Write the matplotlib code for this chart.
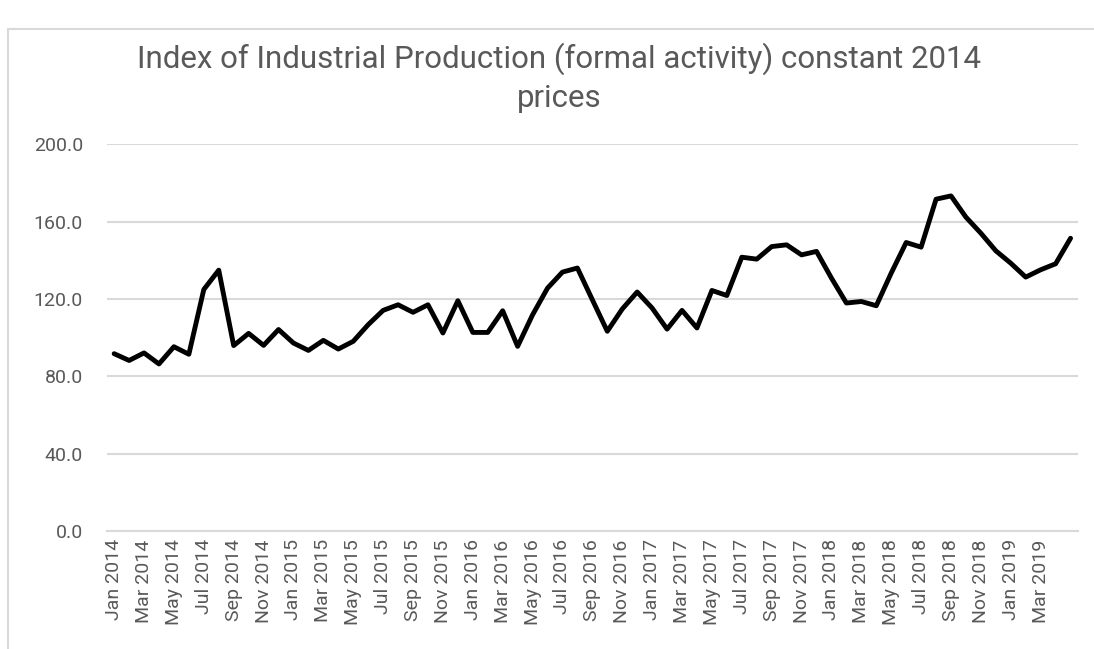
import numpy as np
import pandas as pd
import matplotlib
matplotlib.use('Agg')
import matplotlib.pyplot as plt
from matplotlib.patches import Rectangle

# Monthly categories, Jan 2014 - May 2019
meses = list(pd.date_range('2014-01-01', periods=65, freq='MS').strftime('%b %Y'))

# Index values
indice = [91.7, 88.2, 92.1, 86.4, 95.3, 91.4, 124.9, 134.9, 95.9, 102.2, 96.0, 104.2,
          97.2, 93.4, 98.6, 94.1, 98.1, 106.7, 114.1, 117.0, 113.1, 117.0, 102.4, 119.1,
          102.7, 102.7, 113.9, 95.5, 111.8, 125.6, 133.9, 136.0, 119.6, 103.3, 114.8, 123.6,
          115.3, 104.4, 114.1, 105.0, 124.4, 121.8, 141.6, 140.6, 147.1, 148.0, 142.8, 144.6,
          130.8, 117.9, 118.7, 116.5, 133.4, 149.2, 146.8, 171.6, 173.3, 162.3, 154.0, 144.9,
          138.5, 131.3, 135.1, 138.2, 151.4]

ticks_y = [0, 40, 80, 120, 160, 200]

gris_texto = '#595959'
gris_linea = '#d9d9d9'
fuente = ['Roboto', 'DejaVu Sans']

fig = plt.figure(figsize=(10.94, 6.49), dpi=100)
ax = fig.add_axes([0.0975, 0.1818, 0.8879, 0.5959])

x = np.arange(len(indice))
ax.plot(x, indice, color='black', linewidth=3.5, solid_joinstyle='round', solid_capstyle='round')

ax.set_xlim(-0.5, len(indice) - 0.5)
ax.set_ylim(0, 200)
ax.set_yticks(ticks_y)
ax.set_yticklabels(['%.1f' % v for v in ticks_y], fontsize=14, color=gris_texto, family=fuente)
# Excel solo rotula cada dos meses hasta Mar 2019
ax.set_xticks(x[:63:2])
ax.set_xticklabels(meses[:63:2], rotation=90, fontsize=14, color=gris_texto, family=fuente)
ax.tick_params(axis='both', length=0)
ax.tick_params(axis='y', pad=17)
ax.tick_params(axis='x', pad=6)

ax.grid(axis='y', color=gris_linea, linewidth=1.5)
ax.set_axisbelow(True)
for lado in ['top', 'right', 'left']:
    ax.spines[lado].set_visible(False)
ax.spines['bottom'].set_color(gris_linea)
ax.spines['bottom'].set_linewidth(1.5)

fig.text(0.511, 0.880, 'Index of Industrial Production (formal activity) constant 2014\nprices',
         ha='center', va='center', fontsize=22.5, color=gris_texto, family=fuente, linespacing=1.38)

# marco exterior del grafico (recortado a la derecha y abajo)
fig.patches.append(Rectangle((8 / 1094, -0.05), 1.2, 1 - 29 / 649 + 0.05, transform=fig.transFigure,
                             fill=False, edgecolor=gris_linea, linewidth=1.5))

fig.savefig('out.png', dpi=100)
